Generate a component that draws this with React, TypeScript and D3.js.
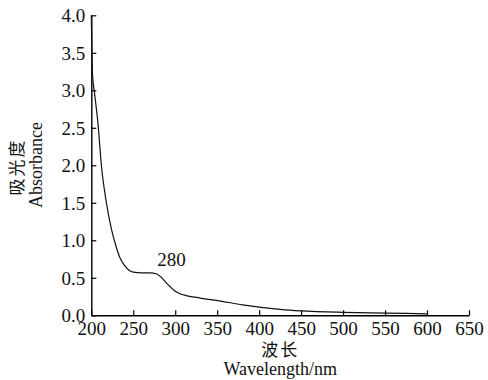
import React, { useEffect, useRef } from "react";
import * as d3 from "d3";

// spectrum
const wavelengths = [200, 201.5, 204, 208, 212, 218, 224, 230, 234, 240, 245, 250, 260, 270, 278, 283, 288, 294, 300, 305, 314, 330, 354, 380, 400, 425, 450, 500, 550, 600];
const absorbance = [4.0, 3.2, 2.95, 2.55, 2.0, 1.5, 1.15, 0.9, 0.77, 0.66, 0.6, 0.575, 0.565, 0.565, 0.55, 0.51, 0.45, 0.38, 0.32, 0.29, 0.26, 0.23, 0.19, 0.14, 0.11, 0.08, 0.06, 0.04, 0.03, 0.02];
const xTicks = [200, 250, 300, 350, 400, 450, 500, 550, 600, 650];
const yTicks = [0, 0.5, 1, 1.5, 2, 2.5, 3, 3.5, 4];
const peakLabel = { wl: 280, value: 0.55, text: "280" };

const SERIF = "Liberation Serif";
const CJK = "Noto Sans CJK SC";

const App = () => {
  const ref = useRef<SVGSVGElement>(null);

  useEffect(() => {
    const svg = d3.select(ref.current);
    svg.selectAll("*").remove();

    const x = d3.scaleLinear().domain([200, 650]).range([91.3, 469]);
    const y = d3.scaleLinear().domain([0, 4]).range([315.3, 15.3]);

    // axes, ticks point inward
    const xAxis = svg
      .append("g")
      .attr("transform", `translate(0,${y(0)})`)
      .call(d3.axisBottom(x).tickValues(xTicks).tickSizeInner(-5).tickSizeOuter(0).tickPadding(6).tickFormat(d3.format("d")));
    const yAxis = svg
      .append("g")
      .attr("transform", `translate(${x(200)},0)`)
      .call(d3.axisLeft(y).tickValues(yTicks).tickSizeInner(-5).tickSizeOuter(0).tickPadding(6).tickFormat(d3.format(".1f")));

    [xAxis, yAxis].forEach(ax => {
      ax.attr("font-family", SERIF).attr("font-size", 19);
      ax.select(".domain").attr("stroke", "#000").attr("stroke-width", 1.4);
      ax.selectAll(".tick line").attr("stroke", "#000").attr("stroke-width", 1.2);
      ax.selectAll("text").attr("fill", "#111");
    });
    xAxis.selectAll("text").attr("y", 5).attr("dy", "0.75em");
    yAxis.selectAll("text").attr("dy", "0.34em");

    // spectrum curve
    const pts = wavelengths.map((w, i) => [w, absorbance[i]] as [number, number]);
    const line = d3
      .line<[number, number]>()
      .x(d => x(d[0]))
      .y(d => y(d[1]))
      .curve(d3.curveMonotoneX);
    svg
      .append("path")
      .datum(pts)
      .attr("d", line)
      .attr("fill", "none")
      .attr("stroke", "#111")
      .attr("stroke-width", 1.2);

    // peak annotation
    svg
      .append("text")
      .attr("x", x(peakLabel.wl) + 13)
      .attr("y", y(peakLabel.value) - 8)
      .attr("text-anchor", "middle")
      .attr("font-family", SERIF)
      .attr("font-size", 19)
      .attr("fill", "#111")
      .text(peakLabel.text);

    // axis titles
    const cx = (x(200) + x(650)) / 2;
    svg
      .append("text")
      .attr("x", cx)
      .attr("y", 356)
      .attr("text-anchor", "middle")
      .attr("font-family", CJK)
      .attr("font-size", 17)
      .attr("letter-spacing", 2)
      .attr("fill", "#111")
      .text("波长");
    svg
      .append("text")
      .attr("x", cx)
      .attr("y", 375)
      .attr("text-anchor", "middle")
      .attr("font-family", SERIF)
      .attr("font-size", 18)
      .attr("fill", "#111")
      .text("Wavelength/nm");

    const cy = 167;
    svg
      .append("text")
      .attr("transform", `translate(23,${cy}) rotate(-90)`)
      .attr("text-anchor", "middle")
      .attr("font-family", CJK)
      .attr("font-size", 17)
      .attr("letter-spacing", 2)
      .attr("fill", "#111")
      .text("吸光度");
    svg
      .append("text")
      .attr("transform", `translate(42,${cy - 2}) rotate(-90)`)
      .attr("text-anchor", "middle")
      .attr("font-family", SERIF)
      .attr("font-size", 18)
      .attr("fill", "#111")
      .text("Absorbance");
  }, []);

  return (
    <svg
      ref={ref}
      width={488}
      height={380}
      style={{ position: "absolute", left: 0, top: 0, background: "#fff" }}
    />
  );
};

export default App;
